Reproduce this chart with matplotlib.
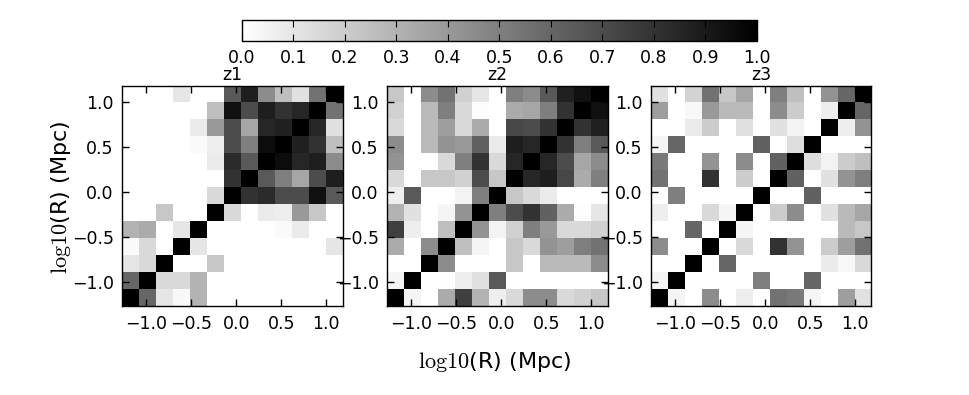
import numpy as np
import matplotlib
matplotlib.use("Agg")
import matplotlib.pyplot as plt

plt.rcParams['font.family'] = ['DejaVu Sans']
plt.rcParams['mathtext.fontset'] = 'cm'

titles = ["z1", "z2", "z3"]
tick_vals = [-1.0, -0.5, 0.0, 0.5, 1.0]
cbar_ticks = [0.0, 0.1, 0.2, 0.3, 0.4, 0.5, 0.6, 0.7, 0.8, 0.9, 1.0]
log_r_min, log_r_max = -1.27, 1.18

# rows listed from the smallest radius (bottom) to the largest (top)
z1 = [
    [1.0, 0.6, 0.1, 0.03, 0.3, 0, 0, 0, 0, 0, 0, 0, 0],
    [0.6, 1.0, 0.15, 0.15, 0.3, 0, 0, 0, 0, 0, 0, 0, 0],
    [0.1, 0.15, 1.0, 0, 0, 0.22, 0, 0, 0, 0, 0, 0, 0],
    [0.02, 0.15, 0, 1.0, 0.1, 0, 0, 0, 0, 0, 0, 0, 0.1],
    [0.3, 0.33, 0, 0.1, 1.0, 0, 0, 0, 0, 0.02, 0.08, 0, 0],
    [0, 0, 0.22, 0, 0, 1.0, 0.15, 0, 0.08, 0.07, 0.4, 0.22, 0],
    [0, 0, 0, 0, 0, 0.15, 1.0, 0.8, 0.83, 0.7, 0.7, 0.93, 0.65],
    [0, 0, 0, 0, 0, 0, 0.8, 1.0, 0.65, 0.5, 0.35, 0.7, 0.88],
    [0, 0, 0, 0, 0, 0.08, 0.83, 0.65, 1.0, 0.95, 0.85, 0.88, 0.45],
    [0, 0, 0, 0, 0.02, 0.07, 0.7, 0.5, 0.95, 1.0, 0.87, 0.8, 0.25],
    [0, 0, 0, 0, 0.08, 0.4, 0.7, 0.35, 0.85, 0.87, 1.0, 0.85, 0.12],
    [0, 0, 0, 0, 0, 0.25, 0.93, 0.7, 0.88, 0.8, 0.85, 1.0, 0.55],
    [0, 0, 0, 0.1, 0, 0, 0.65, 0.88, 0.45, 0.25, 0.12, 0.55, 1.0],
]

z2 = [
    [1.0, 0.04, 0, 0.33, 0.75, 0.3, 0.07, 0.15, 0.45, 0.45, 0.15, 0.18, 0.22],
    [0.04, 1.0, 0, 0, 0.07, 0.12, 0.65, 0, 0, 0, 0, 0, 0],
    [0, 0, 1.0, 0.45, 0, 0, 0, 0.22, 0, 0.27, 0.27, 0.27, 0.45],
    [0.33, 0, 0.45, 1.0, 0.25, 0.04, 0, 0.22, 0.15, 0.42, 0.38, 0.5, 0.55],
    [0.75, 0.07, 0, 0.25, 1.0, 0.42, 0.05, 0.18, 0.5, 0.4, 0.15, 0.15, 0.18],
    [0.3, 0.12, 0, 0.04, 0.42, 1.0, 0.5, 0.7, 0.8, 0.62, 0.33, 0.01, 0.1],
    [0.07, 0.65, 0, 0, 0.05, 0.5, 1.0, 0.22, 0.15, 0.08, 0, 0, 0],
    [0.15, 0, 0.22, 0.22, 0.18, 0.7, 0.22, 1.0, 0.85, 0.88, 0.72, 0.33, 0.5],
    [0.42, 0, 0, 0.15, 0.5, 0.8, 0.15, 0.85, 1.0, 0.85, 0.7, 0.35, 0.45],
    [0.45, 0, 0.27, 0.42, 0.4, 0.62, 0.08, 0.88, 0.85, 1.0, 0.8, 0.5, 0.65],
    [0.15, 0, 0.27, 0.38, 0.15, 0.33, 0, 0.72, 0.7, 0.8, 1.0, 0.8, 0.87],
    [0.18, 0, 0.27, 0.5, 0.15, 0.01, 0, 0.33, 0.35, 0.5, 0.8, 1.0, 0.93],
    [0.22, 0, 0.45, 0.55, 0.18, 0.1, 0, 0.5, 0.45, 0.65, 0.87, 0.93, 1.0],
]

z3 = [
    [1.0, 0.04, 0, 0.45, 0, 0.07, 0, 0.55, 0.52, 0.04, 0, 0.38, 0.12],
    [0.04, 1.0, 0, 0, 0, 0, 0.5, 0, 0, 0.6, 0, 0, 0],
    [0, 0, 1.0, 0, 0.6, 0, 0, 0, 0, 0, 0.08, 0.03, 0.15],
    [0.45, 0, 0, 1.0, 0, 0.15, 0, 0.8, 0.42, 0, 0.2, 0.38, 0.55],
    [0, 0, 0.6, 0, 1.0, 0.04, 0, 0, 0, 0, 0, 0.27, 0.22],
    [0.07, 0, 0, 0.15, 0.04, 1.0, 0, 0.2, 0.45, 0, 0.12, 0.27, 0.35],
    [0, 0.5, 0, 0, 0, 0, 1.0, 0, 0, 0.62, 0, 0, 0],
    [0.55, 0, 0, 0.8, 0, 0.2, 0, 1.0, 0.62, 0, 0.12, 0.42, 0.5],
    [0.52, 0, 0, 0.42, 0, 0.45, 0, 0.62, 1.0, 0.13, 0.05, 0.2, 0.25],
    [0.04, 0.6, 0, 0, 0, 0, 0.62, 0, 0.13, 1.0, 0, 0, 0],
    [0, 0, 0.08, 0.2, 0, 0.12, 0, 0.12, 0.05, 0, 1.0, 0.07, 0.42],
    [0.38, 0, 0.03, 0.4, 0.27, 0.27, 0, 0.45, 0.2, 0, 0.07, 1.0, 0.6],
    [0.12, 0, 0.17, 0.55, 0.22, 0.35, 0, 0.5, 0.25, 0, 0.42, 0.6, 1.0],
]

matrices = [z1, z2, z3]

fig = plt.figure(figsize=(9.69, 3.95), dpi=100)
fig.patch.set_facecolor('white')

lefts = [0.1259, 0.3994, 0.6718]
bottom, width, height = 0.2241, 0.2276, 0.5582

im = None
for left, mat, title in zip(lefts, matrices, titles):
    ax = fig.add_axes([left, bottom, width, height])
    im = ax.imshow(np.array(mat), origin='lower', cmap='gray_r', vmin=0, vmax=1,
                   interpolation='nearest',
                   extent=[log_r_min, log_r_max, log_r_min, log_r_max])
    ax.set_xticks(tick_vals)
    ax.set_yticks(tick_vals)
    ax.set_xticklabels(['\u22121.0', '\u22120.5', '0.0', '0.5', '1.0'])
    ax.set_yticklabels(['\u22121.0', '\u22120.5', '0.0', '0.5', '1.0'])
    ax.tick_params(direction='in', top=True, right=True, length=5, width=1,
                   labelsize=12.5, pad=6)
    ax.set_title(title, fontsize=12.5, pad=4)
    for s in ax.spines.values():
        s.set_linewidth(1)

cax = fig.add_axes([0.2497, 0.896, 0.5315, 0.053])
cb = fig.colorbar(im, cax=cax, orientation='horizontal', ticks=cbar_ticks)
cb.ax.tick_params(direction='in', top=True, bottom=True, length=5, labelsize=12.5, pad=6)
cb.ax.set_xticklabels(['%.1f' % t for t in cbar_ticks])
cb.outline.set_linewidth(1)

label = r'$\mathrm{log10}$(R) (Mpc)'
fig.text(0.063, 0.50, label, rotation=90, ha='center', va='center', fontsize=16)
fig.text(0.511, 0.083, label, ha='center', va='center', fontsize=16)

fig.savefig('out.png', dpi=100, facecolor='white')
